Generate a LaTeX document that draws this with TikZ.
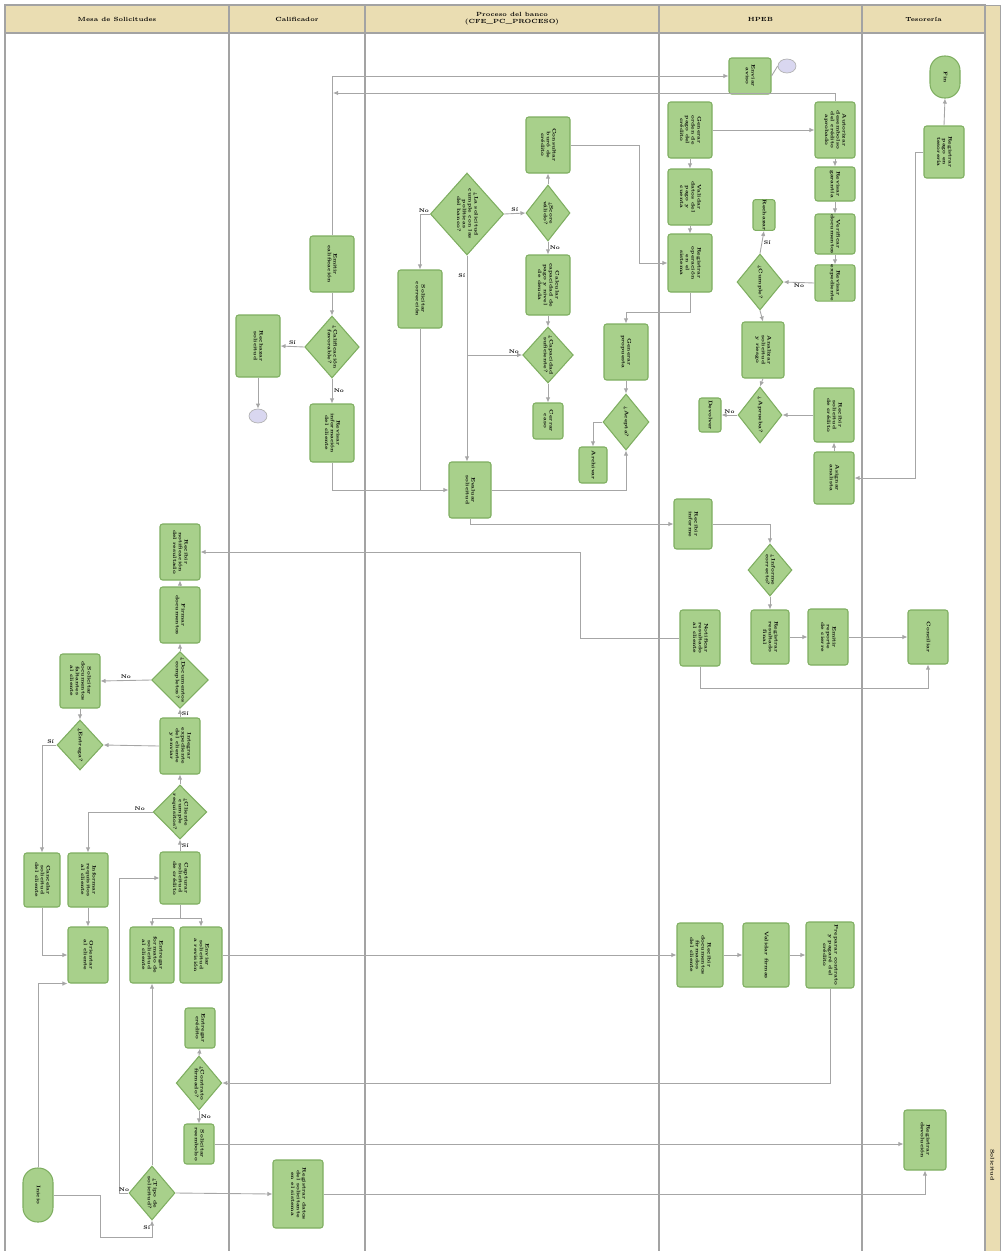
\documentclass[tikz,border=0pt]{standalone}
\usepackage{tikz}
\usetikzlibrary{
  arrows.meta,
  positioning,
  calc,
  shapes.geometric
}
\definecolor{taskgreen}{HTML}{A8D08B}
\definecolor{taskedge}{HTML}{7EAE60}
\definecolor{lanetan}{HTML}{EADDB2}
\definecolor{laneline}{HTML}{A3A3A3}
\definecolor{flowgray}{HTML}{A6A6A6}
\definecolor{connlav}{HTML}{D9D7F0}
\newcommand{\vtxt}[1]{\rotatebox{-90}{\fontsize{2.9}{3.3}\selectfont\bfseries
  \begin{tabular}{@{}c@{}}#1\end{tabular}}}

\begin{document}
\begin{tikzpicture}[
  x=0.2mm, y=-0.2mm,
  sz/.style 2 args={
    minimum width=#1*0.2mm,
    minimum height=#2*0.2mm
  },
  task/.style={
    draw=taskedge,
    fill=taskgreen,
    rounded corners=1.5pt,
    inner sep=0pt,
    line width=0.6pt,
    sz={44}{56}
  },
  gw/.style={
    diamond,
    draw=taskedge,
    fill=taskgreen,
    inner sep=0pt,
    line width=0.6pt,
    sz={46}{56}
  },
  term/.style={
    draw=taskedge,
    fill=taskgreen,
    rounded corners=2.9mm,
    inner sep=0pt,
    line width=0.6pt,
    sz={30}{54}
  },
  conn/.style={
    ellipse,
    draw=gray!60,
    fill=connlav,
    inner sep=0pt,
    sz={18}{14}
  },
  flow/.style={
    draw=flowgray,
    line width=0.5pt,
    -{Latex[length=1mm,width=0.9mm]}
  },
  link/.style={
    draw=flowgray,
    line width=0.5pt
  },
  lane/.style={
    draw=laneline,
    line width=0.6pt
  },
  lanehead/.style={
    draw=laneline,
    fill=lanetan,
    font=\fontsize{3.4}{4}\selectfont\bfseries,
    align=center,
    inner sep=0pt,
    line width=0.6pt
  },
  ans/.style={
    font=\fontsize{3}{3}\selectfont\bfseries,
    inner sep=0.8pt
  }
]
\useasboundingbox (0,0) rectangle (1004,1251);

% --- lanes ---
\node[lanehead,sz={224}{28}] (hdSol) at (117,19) {Mesa de Solicitudes};
\node[lanehead,sz={136}{28}] (hdCal) at (297,19) {Calificador};
\node[lanehead,sz={294}{28}] (hdPro) at (512,19) {Proceso del banco\\(CFE\_PC\_PROCESO)};
\node[lanehead,sz={203}{28}] (hdHp) at (760.5,19) {HPEB};
\node[lanehead,sz={123}{28}] (hdTes) at (923.5,19) {Tesorería};
\draw[lane] (5,33) -- (5,1251);
\foreach \lx in {229,365,659,862,985}
  \draw[lane] (\lx,33) -- (\lx,1251);
\filldraw[lanetan,draw=laneline] (985,5) rectangle (1000,1251);
\node[ans,rotate=-90] (sideLbl) at (992.5,1165) {Solicitud};

% --- Tesoreria ---
\node[term,sz={30}{42}] (tesEnd) at (945,77) {\vtxt{Fin}};
\node[task,sz={40}{52}] (tes1) at (944,152) {\vtxt{Registrar\\pago en\\tesorería}};
\node[task,sz={40}{54}] (tes2) at (928,637) {\vtxt{Conciliar}};
\node[task,sz={42}{60}] (tes3) at (925,1140) {\vtxt{Registrar\\devolución}};

% --- HPEB ---
\node[task,sz={42}{36}] (hpTop) at (750,76) {\vtxt{Enviar\\aviso}};
\node[conn] (hpConn) at (787,66) {};
\node[task] (hpL1) at (690,130) {\vtxt{Generar\\orden de\\pago del\\crédito}};
\node[task] (hpL2) at (690,197) {\vtxt{Validar\\datos del\\pago y\\cuenta}};
\node[task,sz={44}{58}] (hpL3) at (690,263) {\vtxt{Registrar\\operación\\en el\\sistema}};
\node[task,sz={40}{56}] (hpR1) at (835,130) {\vtxt{Autorizar\\desembolso\\del crédito\\aprobado}};
\node[task,sz={40}{34}] (hpR2) at (835,184) {\vtxt{Revisar\\garantía}};
\node[task,sz={40}{38}] (hpR3) at (835,234) {\vtxt{Verificar\\documentos}};
\node[task,sz={40}{36}] (hpR4) at (835,283) {\vtxt{Revisar\\expediente}};
\node[task,sz={22}{30}] (hpS1) at (764,215) {\vtxt{Rechazar}};
\node[gw] (hpG1) at (760,282) {\vtxt{¿Cumple?}};
\node[task,sz={42}{56}] (hpM1) at (763,350) {\vtxt{Analizar\\solicitud\\y riesgo}};
\node[gw,sz={44}{56}] (hpG2) at (760,415) {\vtxt{¿Aprueba?}};
\node[task,sz={22}{34}] (hpS2) at (710,415) {\vtxt{Devolver}};
\node[task,sz={40}{54}] (hpR5) at (834,415) {\vtxt{Recibir\\solicitud\\de crédito}};
\node[task,sz={40}{52}] (hpR6) at (834,478) {\vtxt{Asignar\\analista}};
\node[task,sz={38}{50}] (hpB1) at (693,524) {\vtxt{Recibir\\informe}};
\node[gw,sz={44}{52}] (hpG3) at (770,570) {\vtxt{¿Informe\\correcto?}};
\node[task,sz={40}{56}] (hpB2) at (700,638) {\vtxt{Notificar\\resultado\\al cliente}};
\node[task,sz={38}{54}] (hpB3) at (770,637) {\vtxt{Registrar\\resultado\\final}};
\node[task,sz={40}{56}] (hpB4) at (828,637) {\vtxt{Emitir\\reporte\\de cierre}};
\node[task,sz={46}{64}] (hpC1) at (700,955) {\vtxt{Recibir\\documentos\\firmados\\del cliente}};
\node[task,sz={46}{64}] (hpC2) at (766,955) {\vtxt{Validar firmas}};
\node[task,sz={48}{66}] (hpC3) at (830,955) {\vtxt{Preparar contrato\\y pagaré del\\crédito}};

% --- Proceso del banco ---
\node[task] (proA) at (548,145) {\vtxt{Consultar\\buró de\\crédito}};
\node[gw,sz={44}{56}] (proG1) at (548,213) {\vtxt{¿Score\\válido?}};
\node[task,sz={44}{60}] (proB) at (548,285) {\vtxt{Calcular\\capacidad de\\pago y nivel\\de deuda}};
\node[gw,sz={44}{56}] (proG2) at (548,355) {\vtxt{¿Capacidad\\suficiente?}};
\node[task,sz={30}{36}] (proS) at (548,421) {\vtxt{Cerrar\\caso}};
\node[gw,sz={72}{82}] (proGbig) at (467,214) {\vtxt{¿La solicitud\\cumple con las\\políticas\\del banco?}};
\node[task,sz={44}{58}] (proC) at (420,299) {\vtxt{Solicitar\\corrección}};
\node[task] (proD) at (626,352) {\vtxt{Generar\\propuesta}};
\node[gw] (proG3) at (626,422) {\vtxt{¿Acepta?}};
\node[task,sz={28}{36}] (proS2) at (593,465) {\vtxt{Archivar}};
\node[task,sz={42}{56}] (proE) at (470,490) {\vtxt{Evaluar\\solicitud}};

% --- Calificador ---
\node[task] (calA) at (332,264) {\vtxt{Emitir\\calificación}};
\node[gw,sz={46}{62}] (calG) at (332,347) {\vtxt{¿Calificación\\favorable?}};
\node[task,sz={44}{58}] (calB) at (332,433) {\vtxt{Revisar\\información\\del cliente}};
\node[task,sz={44}{62}] (calC) at (258,346) {\vtxt{Rechazar\\solicitud}};
\node[conn] (calConn) at (258,416) {};
\node[task,sz={50}{68}] (calD) at (298,1194) {\vtxt{Registrar datos\\del solicitante\\en el sistema}};

% --- Mesa de solicitudes ---
\node[task,sz={40}{56}] (solA) at (180,552) {\vtxt{Recibir\\notificación\\del resultado}};
\node[task,sz={40}{56}] (solB) at (180,615) {\vtxt{Firmar\\documentos}};
\node[gw,sz={44}{52}] (solG1) at (180,680) {\vtxt{¿Documentos\\completos?}};
\node[task,sz={40}{54}] (solC) at (80,681) {\vtxt{Solicitar\\documentos\\faltantes\\al cliente}};
\node[task,sz={40}{56}] (solD) at (180,746) {\vtxt{Integrar\\expediente\\del cliente\\y enviar}};
\node[gw,sz={46}{50}] (solG2) at (80,745) {\vtxt{¿Entrega?}};
\node[gw,sz={46}{54}] (solG3) at (180,812) {\vtxt{¿Cliente\\cumple\\requisitos?}};
\node[task,sz={40}{52}] (solE) at (180,878) {\vtxt{Capturar\\solicitud\\de crédito}};
\node[task,sz={36}{54}] (solF) at (42,880) {\vtxt{Cancelar\\solicitud\\del cliente}};
\node[task,sz={40}{54}] (solH) at (88,880) {\vtxt{Informar\\requisitos\\al cliente}};
\node[task,sz={44}{56}] (solI) at (152,955) {\vtxt{Entregar\\formato de\\solicitud\\al cliente}};
\node[task,sz={42}{56}] (solJ) at (201,955) {\vtxt{Enviar\\solicitud\\a revisión}};
\node[task,sz={40}{56}] (solK) at (88,955) {\vtxt{Orientar\\al cliente}};
\node[task,sz={30}{40}] (solL) at (200,1028) {\vtxt{Entregar\\crédito}};
\node[gw,sz={44}{54}] (solG4) at (199,1083) {\vtxt{¿Contrato\\firmado?}};
\node[task,sz={30}{40}] (solM) at (199,1144) {\vtxt{Solicitar\\reembolso}};
\node[gw,sz={46}{54}] (solG5) at (152,1193) {\vtxt{¿Tipo de\\solicitud?}};
\node[term] (solStart) at (38,1195) {\vtxt{Inicio}};

% --- connectors: upper part ---
\draw[flow] (calA.north) |- (hpTop.west);
\draw[link] (hpTop.east) -- (hpConn.west);
\coordinate (topJ) at (333,93);
\draw[flow] (hpR1.north) |- (topJ);
\draw[flow] (hpL1.east) -- (hpR1.west);
\draw[flow] (hpL1.south) -- (hpL2.north);
\draw[flow] (hpL2.south) -- (hpL3.north);
\draw[flow] (hpR1.south) -- (hpR2.north);
\draw[flow] (hpR2.south) -- (hpR3.north);
\draw[flow] (hpR3.south) -- (hpR4.north);
\draw[flow] (hpR4.west) -- node[ans,below]{No} (hpG1.east);
\draw[flow] (hpG1.north) -- node[ans,right]{Sí} (hpS1.south);
\draw[flow] (hpG1.south) -- (hpM1.north);
\draw[flow] (hpM1.south) -- (hpG2.north);
\draw[flow] (hpG2.west) -- node[ans,above]{No} (hpS2.east);
\draw[flow] (hpR5.west) -- (hpG2.east);
\draw[flow] (hpR6.north) -- (hpR5.south);
\draw[flow] (tes1.west) -- ++(-8,0) |- (hpR6.east);
\draw[flow] (tes1.north) -- (tesEnd.south);
\draw[flow] (proA.east) -| ($(hpL3.west)+(-28,0)$) -- (hpL3.west);
\draw[flow] (proG1.north) -- (proA.south);
\draw[flow] (proGbig.east) -- node[ans,above]{Sí} (proG1.west);
\draw[flow] (proG1.south) -- node[ans,right]{No} (proB.north);
\draw[flow] (proB.south) -- (proG2.north);
\draw[flow] (proG2.south) -- (proS.north);
\draw[flow] (proGbig.west) -| node[ans,above,pos=0.3]{No} (proC.north);
\draw[flow] (proGbig.south) -- node[ans,left,pos=0.1]{Sí} (proGbig.south |- proE.north);
\draw[flow] (proGbig.south |- proG2.west) -- node[ans,above,pos=0.85]{No} (proG2.west);
\draw[flow] (calB.south) |- (proE.west);
\draw[link] (proC.south) -- (proC.south |- proE.west);
\draw[flow] (proE.east) -| (proG3.south);
\draw[flow] (proD.south) -- (proG3.north);
\draw[flow] (proG3.west) -| (proS2.north);
\coordinate (hpJ) at ($(hpL3.south)+(0,20)$);
\draw[flow] (hpL3.south) -- (hpJ) -| (proD.north);
\draw[flow] (calA.south) -- (calG.north);
\draw[flow] (calG.west) -- node[ans,above]{Sí} (calC.east);
\draw[flow] (calG.south) -- node[ans,right]{No} (calB.north);
\draw[flow] (calC.south) -- (calConn.north);

% --- connectors: middle part ---
\draw[flow] (proE.south) |- (hpB1.west);
\draw[flow] (hpB1.east) -| (hpG3.north);
\draw[flow] (hpG3.south) -- (hpB3.north);
\draw[flow] (hpB3.east) -- (hpB4.west);
\draw[flow] (hpB4.east) -- (tes2.west);
\coordinate (lowJ) at ($(hpB2.south)+(0,22)$);
\draw[flow] (hpB2.south) -- (lowJ) -| (tes2.south);
\coordinate (midJ) at (580,552);
\draw[flow] (hpB2.west) -| (midJ) -- (solA.east);

% --- connectors: Mesa de solicitudes ---
\draw[flow] (solB.north) -- (solA.south);
\draw[flow] (solG1.north) -- (solB.south);
\draw[flow] (solG1.west) -- node[ans,above]{No} (solC.east);
\draw[flow] (solD.north) -- node[ans,right]{Sí} (solG1.south);
\draw[flow] (solD.west) -- (solG2.east);
\draw[flow] (solC.south) -- (solG2.north);
\draw[flow] (solG2.west) -| node[ans,above,pos=0.2]{Sí} (solF.north);
\draw[flow] (solF.south) |- (solK.west);
\draw[flow] (solG3.north) -- (solD.south);
\draw[flow] (solG3.west) -| node[ans,above,pos=0.1]{No} (solH.north);
\draw[flow] (solH.south) -- (solK.north);
\draw[flow] (solE.north) -- node[ans,right]{Sí} (solG3.south);
\coordinate (splitJ) at ($(solE.south)+(0,14)$);
\draw[link] (solE.south) -- (splitJ);
\draw[flow] (splitJ) -| (solI.north);
\draw[flow] (splitJ) -| (solJ.north);
\draw[flow] (solG5.west) -- node[ans,above]{No} ++(-9,0) |- (solE.west);
\draw[flow] (solJ.east) -- (hpC1.west);
\draw[flow] (hpC1.east) -- (hpC2.west);
\draw[flow] (hpC2.east) -- (hpC3.west);
\draw[flow] (hpC3.south) |- (solG4.east);
\draw[flow] (solG4.north) -- (solL.south);
\draw[flow] (solG4.south) -- node[ans,right]{No} (solM.north);
\draw[flow] (solM.east) -- (solM.east -| tes3.west);
\draw[flow] (solG5.north) -- (solI.south);
\draw[flow] (solG5.east) -- (calD.west);
\draw[flow] (calD.east) -| (tes3.south);
\coordinate (startJ) at ($(solG5.south)+(0,17)$);
\draw[flow] (solStart.east) -- ++(47,0) |- (startJ) -- node[ans,left,pos=0.6]{Sí} (solG5.south);
\draw[flow] (solStart.north) |- (solK.south west);

\end{tikzpicture}
\end{document}
